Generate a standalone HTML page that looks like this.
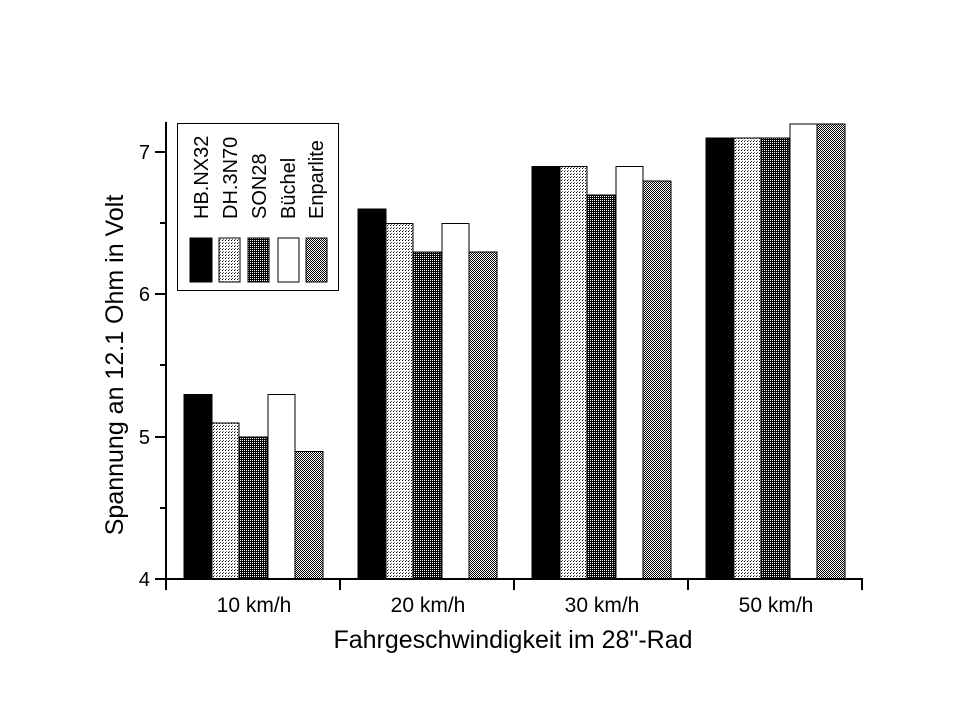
<!DOCTYPE html>
<html><head><style>body{margin:0;background:#fff}svg{display:block}</style></head><body>
<svg width="960" height="708" xmlns="http://www.w3.org/2000/svg" font-family="Liberation Sans, sans-serif">
<defs>
<pattern id="p1" width="3" height="3" patternUnits="userSpaceOnUse"><rect width="3" height="3" fill="#fff"/><rect width="1" height="1" fill="#000"/><rect x="1" y="2" width="1" height="1" fill="#666"/></pattern>
<pattern id="p2" width="2" height="2" patternUnits="userSpaceOnUse"><rect width="2" height="2" fill="#000"/><rect width="1" height="1" fill="#fff"/></pattern>
<pattern id="p3" width="2" height="2" patternUnits="userSpaceOnUse"><rect width="2" height="2" fill="#fff"/><rect width="1" height="1" fill="#000"/><rect x="1" y="1" width="1" height="1" fill="#000"/></pattern>
</defs>
<g stroke="#000" stroke-width="1">
<rect x="184" y="394.5" width="28" height="184.5" fill="#000"/>
<rect x="212" y="423" width="27" height="156" fill="url(#p1)"/>
<rect x="239" y="437" width="28" height="142" fill="url(#p2)"/>
<rect x="268" y="394.5" width="27" height="184.5" fill="#fff"/>
<rect x="295" y="451.5" width="28" height="127.5" fill="url(#p3)"/>

<rect x="358" y="209" width="28" height="370" fill="#000"/>
<rect x="386" y="223.5" width="27" height="355.5" fill="url(#p1)"/>
<rect x="413" y="252" width="28" height="327" fill="url(#p2)"/>
<rect x="442" y="223.5" width="27" height="355.5" fill="#fff"/>
<rect x="469" y="252" width="28" height="327" fill="url(#p3)"/>

<rect x="532" y="166.5" width="28" height="412.5" fill="#000"/>
<rect x="560" y="166.5" width="27" height="412.5" fill="url(#p1)"/>
<rect x="587" y="195" width="28" height="384" fill="url(#p2)"/>
<rect x="616" y="166.5" width="27" height="412.5" fill="#fff"/>
<rect x="643" y="181" width="28" height="398" fill="url(#p3)"/>

<rect x="706" y="138" width="28" height="441" fill="#000"/>
<rect x="734" y="138" width="27" height="441" fill="url(#p1)"/>
<rect x="761" y="138" width="28" height="441" fill="url(#p2)"/>
<rect x="790" y="124" width="27" height="455" fill="#fff"/>
<rect x="817" y="124" width="28" height="455" fill="url(#p3)"/>

<line x1="166" y1="122" x2="166" y2="579" stroke-width="2"/>
<line x1="155" y1="579" x2="863" y2="579" stroke-width="2"/>
<g stroke-width="2">
<line x1="155" y1="152" x2="166" y2="152"/><line x1="155" y1="294" x2="166" y2="294"/><line x1="155" y1="437" x2="166" y2="437"/>
<line x1="160" y1="223" x2="166" y2="223"/><line x1="160" y1="365" x2="166" y2="365"/><line x1="160" y1="508" x2="166" y2="508"/>
<line x1="340" y1="579" x2="340" y2="590"/><line x1="514" y1="579" x2="514" y2="590"/><line x1="688" y1="579" x2="688" y2="590"/><line x1="862" y1="579" x2="862" y2="590"/>
<line x1="166" y1="579" x2="166" y2="590"/>
</g>
<rect x="177.5" y="123.5" width="161" height="167" fill="#fff"/>
<rect x="190" y="238" width="22" height="44" fill="#000"/>
<rect x="219" y="238" width="21" height="44" fill="url(#p1)"/>
<rect x="248" y="238" width="21" height="44" fill="url(#p2)"/>
<rect x="278" y="238" width="21" height="44" fill="#fff"/>
<rect x="306" y="238" width="21" height="44" fill="url(#p3)"/>
</g>
<g font-size="20" fill="#000">
<text transform="translate(208,219) rotate(-90)">HB.NX32</text>
<text transform="translate(237,219) rotate(-90)">DH.3N70</text>
<text transform="translate(266,219) rotate(-90)">SON28</text>
<text transform="translate(295,219) rotate(-90)">Büchel</text>
<text transform="translate(323,219) rotate(-90)">Enparlite</text>
</g>
<g font-size="20" text-anchor="end">
<text x="150" y="159">7</text><text x="150" y="301">6</text><text x="150" y="444">5</text><text x="150" y="586">4</text>
</g>
<g font-size="21" text-anchor="middle">
<text x="254" y="612">10 km/h</text><text x="428" y="612">20 km/h</text><text x="602" y="612">30 km/h</text><text x="776" y="612">50 km/h</text>
</g>
<text x="513" y="648" font-size="25" text-anchor="middle">Fahrgeschwindigkeit im 28"-Rad</text>
<text transform="translate(123,365) rotate(-90)" font-size="25" text-anchor="middle">Spannung an 12.1 Ohm in Volt</text>
</svg>
</body></html>
